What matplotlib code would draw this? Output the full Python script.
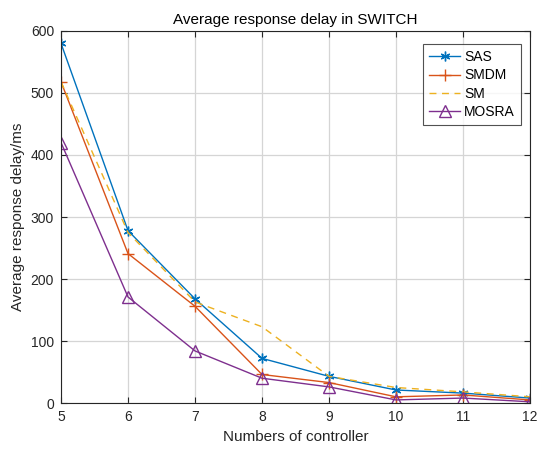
import matplotlib
matplotlib.use("Agg")
import matplotlib.pyplot as plt

plt.rcParams['font.family'] = ['Liberation Sans', 'DejaVu Sans']

x = [5, 6, 7, 8, 9, 10, 11, 12]
sas = [580, 278, 168, 72, 43, 21, 16, 8]
smdm = [518, 241, 156, 46, 33, 10, 13, 5]
sm = [518, 275, 163, 123, 43, 25, 18, 10]
mosra = [420, 171, 84, 40, 26, 5, 8, 2]

fig = plt.figure(figsize=(5.39, 4.49), dpi=100)
ax = fig.add_axes([0.1132, 0.1024, 0.8701, 0.8286])

ax.plot(x, sas, color='#0072BD', marker=(6, 2, 0), markersize=7, mew=1.0, lw=1.0, label='SAS')
ax.plot(x, smdm, color='#D95319', marker='+', markersize=8, mew=1.0, lw=1.0, label='SMDM')
ax.plot(x, sm, color='#EDB120', ls=(0, (5, 4)), lw=1.0, label='SM')
ax.plot(x, mosra, color='#7E2F8E', marker='^', markersize=8, mfc='none', mew=1.0, lw=1.0, label='MOSRA')

ax.set_xlim(5, 12)
ax.set_ylim(0, 600)
ax.set_xticks(x)
ax.set_yticks([0, 100, 200, 300, 400, 500, 600])
ax.grid(True, color='#d5d5d5', lw=0.9)
ax.set_axisbelow(True)
ax.tick_params(direction='in', length=4, labelsize=10, top=True, right=True, pad=5, colors='#262626')
for s in ax.spines.values():
    s.set_color('#262626')
    s.set_linewidth(0.8)

ax.set_xlabel('Numbers of controller', fontsize=11, color='#262626')
ax.set_ylabel('Average response delay/ms', fontsize=11, color='#262626')
ax.set_title('Average response delay in SWITCH', fontsize=11, color='black', pad=5)

leg = ax.legend(loc='upper left', bbox_to_anchor=(0.772, 0.965), fontsize=10, frameon=True,
                fancybox=False, edgecolor='#262626', handlelength=2.2, borderpad=0.45,
                labelspacing=0.3, handletextpad=0.3, borderaxespad=0)
leg.get_frame().set_linewidth(0.8)

fig.savefig('out.png', dpi=100, facecolor='white')
